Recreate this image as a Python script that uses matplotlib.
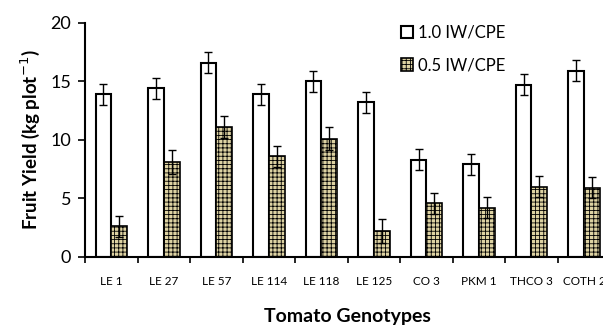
import numpy as np
import matplotlib
matplotlib.use("Agg")
import matplotlib.pyplot as plt

plt.rcParams['font.family'] = ['Lato', 'DejaVu Sans']
plt.rcParams['hatch.color'] = '#a8996a'
plt.rcParams['hatch.linewidth'] = 0.6

genotypes = ['LE 1', 'LE 27', 'LE 57', 'LE 114', 'LE 118', 'LE 125', 'CO 3', 'PKM 1', 'THCO 3', 'COTH 2']
full_iw = [13.9, 14.4, 16.6, 13.9, 15.0, 13.2, 8.3, 7.9, 14.7, 15.9]
full_err = [0.9, 0.9, 0.9, 0.9, 0.9, 0.9, 0.9, 0.9, 0.9, 0.9]
half_iw = [2.6, 8.1, 11.1, 8.6, 10.1, 2.2, 4.6, 4.2, 6.0, 5.9]
half_err = [0.9, 1.0, 0.9, 0.9, 1.0, 1.0, 0.9, 0.9, 0.9, 0.9]

fig = plt.figure(figsize=(6.03, 3.26), dpi=100)
ax = fig.add_axes([0.141, 0.212, 0.871, 0.718])

x = np.arange(len(genotypes))
w = 0.3
err_kw = dict(ecolor='black', elinewidth=1, capsize=3, capthick=1)
ax.bar(x - w / 2, full_iw, w, yerr=full_err, color='white', edgecolor='black',
       linewidth=1.5, error_kw=err_kw, label='1.0 IW/CPE')
ax.bar(x + w / 2, half_iw, w, yerr=half_err, color='#ddd2a2', edgecolor='black',
       linewidth=1.2, hatch='++++', error_kw=err_kw, label='0.5 IW/CPE')

ax.set_xlim(-0.5, len(genotypes) - 0.5)
ax.set_ylim(0, 20)
ax.set_yticks([0, 5, 10, 15, 20])
ax.set_xticks(x)
ax.set_xticklabels(genotypes, fontsize=8.5)
ax.set_xticks(np.arange(len(genotypes) + 1) - 0.5, minor=True)
ax.tick_params(axis='x', which='major', length=0, pad=14)
ax.tick_params(axis='x', which='minor', length=4, width=1.2, direction='out')
ax.tick_params(axis='y', labelsize=13, length=5, width=1.2, direction='out', pad=5)

for side in ['top', 'right']:
    ax.spines[side].set_visible(False)
for side in ['left', 'bottom']:
    ax.spines[side].set_linewidth(1.5)

ax.set_ylabel('Fruit Yield (kg plot$^{-1}$)', fontsize=13.5, fontweight='bold', labelpad=6)
ax.set_xlabel('Tomato Genotypes', fontsize=14, fontweight='bold', labelpad=15)

ax.legend(loc='upper left', bbox_to_anchor=(0.64, 0.97), bbox_transform=fig.transFigure,
          frameon=False, fontsize=12, handlelength=0.7, handleheight=0.8,
          handletextpad=0.3, labelspacing=1.0)

fig.savefig('out.png', dpi=100)
